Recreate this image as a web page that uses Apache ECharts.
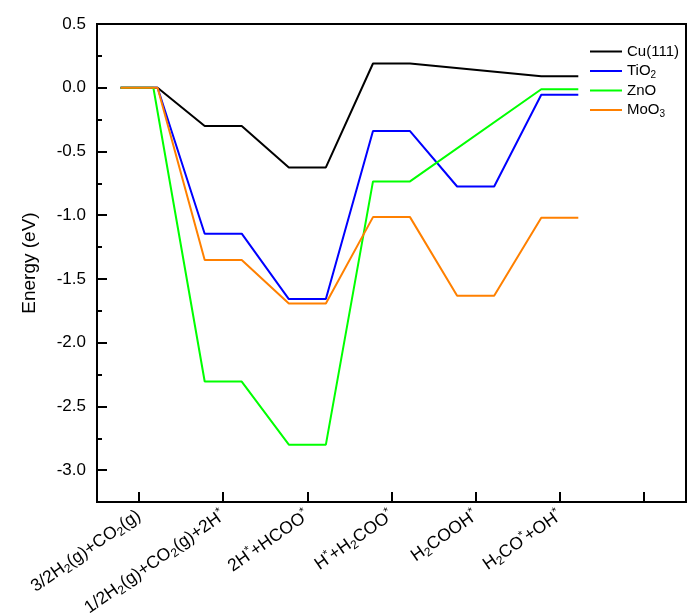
<!DOCTYPE html>
<html>
<head>
<meta charset="utf-8">
<script src="https://cdn.jsdelivr.net/npm/echarts@6/dist/echarts.min.js"></script>
<style>html,body{margin:0;padding:0;background:#fff;}#c{width:695px;height:613px;}</style>
</head>
<body>
<div id="c"></div>
<script>
// Reaction stages (x categories); last slot is empty
const stages = [
  '{n|3/2H}{s|2}{n|(g)+CO}{s|2}{n|(g)}',
  '{n|1/2H}{s|2}{n|(g)+CO}{s|2}{n|(g)+2H}{p|*}',
  '{n|2H}{p|*}{n|+HCOO}{p|*}',
  '{n|H}{p|*}{n|+H}{s|2}{n|COO}{p|*}',
  '{n|H}{s|2}{n|COOH}{p|*}',
  '{n|H}{s|2}{n|CO}{p|*}{n|+OH}{p|*}',
  ''
];
const seriesNames = ['Cu(111)', 'TiO2', 'ZnO', 'MoO3'];
const legendLabels = ['{n|Cu(111)}', '{n|TiO}{s|2}', '{n|ZnO}', '{n|MoO}{s|3}'];
const colors = ['#000000', '#0000ff', '#00ff00', '#ff8000'];
// Energies (eV) per stage; null = no level drawn
const cu   = [0, -0.30, -0.625, 0.19, null, 0.09];
const tio2 = [0, -1.145, -1.658, -0.34, -0.775, -0.055];
const zno  = [0, -2.305, -2.80, -0.735, null, -0.012];
const moo3 = [0, -1.352, -1.692, -1.015, -1.632, -1.02];
const yTicks = [0.5, 0.0, -0.5, -1.0, -1.5, -2.0, -2.5, -3.0];

const HALF = 0.22;
function levels(vals, firstRight) {
  const pts = [];
  vals.forEach((v, i) => {
    if (v === null) return;
    const r = (i === 0 && firstRight !== undefined) ? firstRight : HALF;
    pts.push([i - HALF, v], [i + r, v]);
  });
  return pts;
}
const allVals = [cu, tio2, zno, moo3];
const firstRights = [undefined, undefined, 0.17, undefined];

const FF = 'Liberation Sans, Arial';
const rich = {
  n: {fontFamily: FF, fontSize: 17.5, color: '#000'},
  s: {fontFamily: FF, fontSize: 12, color: '#000', verticalAlign: 'bottom', padding: [9, 0, 0, 0]},
  p: {fontFamily: FF, fontSize: 12, color: '#000', verticalAlign: 'top', padding: [0, 0, 9, 0]}
};
const legRich = {
  n: {fontFamily: FF, fontSize: 15, color: '#000', lineHeight: 16},
  s: {fontFamily: FF, fontSize: 10, color: '#000', padding: [8, 0, 0, 0], lineHeight: 16}
};

const G = {left: 97, top: 24, width: 589, height: 478};
const chart = echarts.init(document.getElementById('c'));
chart.setOption({
  animation: false,
  backgroundColor: '#fff',
  grid: [
    Object.assign({show: true, borderColor: '#000', borderWidth: 2, containLabel: false, outerBoundsMode: 'none'}, G),
    {left: G.left, top: G.top, width: G.width, height: G.height * 3.5 / 3.75, show: false, containLabel: false, outerBoundsMode: 'none'}
  ],
  legend: {
    orient: 'vertical', left: 590, top: 44, padding: 0,
    itemWidth: 32, itemHeight: 2, itemGap: 3, icon: 'rect',
    data: seriesNames,
    formatter: name => legendLabels[seriesNames.indexOf(name)],
    textStyle: {rich: legRich}
  },
  xAxis: [
    {type: 'value', gridIndex: 0, min: -0.5, max: 6.5, show: false},
    {type: 'category', gridIndex: 0, data: stages, boundaryGap: true, position: 'bottom',
     axisLine: {show: true, onZero: false, lineStyle: {color: '#000', width: 2}},
     axisTick: {show: true, inside: true, alignWithLabel: true, interval: 0, length: 10, lineStyle: {color: '#000', width: 2}},
     axisLabel: {interval: 0, rotate: 35, margin: 12, formatter: v => v, rich: rich}},
    {type: 'value', gridIndex: 1, min: -0.5, max: 6.5, show: false}
  ],
  yAxis: [
    {type: 'value', gridIndex: 0, min: -3.25, max: 0.5, interval: 0.25, position: 'left',
     name: 'Energy (eV)', nameLocation: 'middle', nameGap: 58,
     nameTextStyle: {fontFamily: FF, fontSize: 19, color: '#000'},
     axisLine: {show: true, onZero: false, lineStyle: {color: '#000', width: 2}},
     axisTick: {show: true, inside: true, length: 5, lineStyle: {color: '#000', width: 2}},
     axisLabel: {show: false}, splitLine: {show: false}},
    {type: 'value', gridIndex: 1, min: yTicks[yTicks.length - 1], max: yTicks[0], interval: 0.5, position: 'left',
     axisLine: {show: false, onZero: false},
     axisTick: {show: true, inside: true, length: 10, lineStyle: {color: '#000', width: 2}},
     axisLabel: {show: true, margin: 11, fontFamily: FF, fontSize: 17, color: '#000',
                 formatter: v => v.toFixed(1)},
     splitLine: {show: false}}
  ],
  series: seriesNames.map((nm, k) => ({
    name: nm, type: 'line', xAxisIndex: 0, yAxisIndex: 0,
    data: levels(allVals[k], firstRights[k]),
    symbol: 'none', color: colors[k],
    lineStyle: {color: colors[k], width: 2}
  }))
});
</script>
</body>
</html>
